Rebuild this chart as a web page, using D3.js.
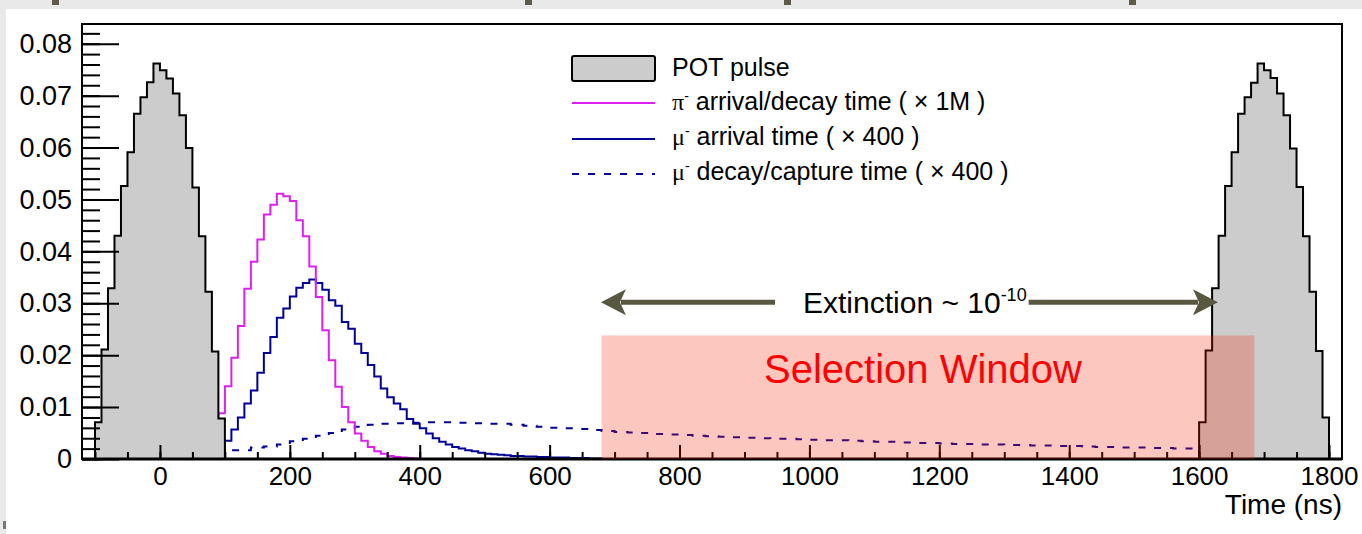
<!DOCTYPE html>
<html>
<head>
<meta charset="utf-8">
<script src="https://cdn.jsdelivr.net/npm/d3@7"></script>
<style>
  body { margin: 0; background: #fff; }
  text { font-family: "Liberation Sans", Arial, Helvetica, sans-serif; fill: #000; }
</style>
</head>
<body>
<svg id="chart" width="1362" height="534"></svg>
<script>
// ---- data -------------------------------------------------------------
const binWidth = 10; // ns

// proton-on-target pulses (normalised), 10 ns bins
const potFirstEdge = -100;
const potPulse = [0.0071, 0.0211, 0.0329, 0.0430, 0.0526, 0.0591, 0.0665, 0.0697, 0.0726, 0.0762,
                  0.0749, 0.0733, 0.0704, 0.0662, 0.0599, 0.0523, 0.0429, 0.0322, 0.0207, 0.0078];
const potNextFirstEdge = 1600;
const potPulseNext = [0.0071, 0.0209, 0.0329, 0.0430, 0.0526, 0.0591, 0.0665, 0.0697, 0.0725, 0.0762,
                      0.0749, 0.0734, 0.0704, 0.0662, 0.0598, 0.0524, 0.0429, 0.0322, 0.0208, 0.0080];

// pi- arrival/decay time (x 1M)
const pionFirstEdge = 90;
const pionTime = [0.0088, 0.0140, 0.0195, 0.0256, 0.0328, 0.0380, 0.0423, 0.0471, 0.0490, 0.0511,
                  0.0506, 0.0497, 0.0460, 0.0429, 0.0371, 0.0312, 0.0248, 0.0190, 0.0139, 0.0100,
                  0.0071, 0.0049, 0.0035, 0.0023, 0.0015, 0.0010, 0.0006, 0.0004, 0.0003, 0.0002,
                  0.0001];

// mu- arrival time (x 400)
const muonFirstEdge = 100;
const muonArrival = [0.0035, 0.0057, 0.0080, 0.0107, 0.0132, 0.0166, 0.0204, 0.0235, 0.0272, 0.0290,
                     0.0313, 0.0330, 0.0339, 0.0346, 0.0339, 0.0326, 0.0306, 0.0295, 0.0264, 0.0251,
                     0.0222, 0.0204, 0.0181, 0.0159, 0.0136, 0.0119, 0.0107, 0.0096, 0.0077, 0.0068,
                     0.0059, 0.0049, 0.0040, 0.0033, 0.0028, 0.0023, 0.0020, 0.0017, 0.0015, 0.0012,
                     0.0010, 0.0009, 0.0008, 0.0007, 0.0006, 0.0006, 0.0005, 0.0005, 0.0004, 0.0004,
                     0.0003, 0.0003, 0.0003, 0.0002, 0.0002, 0.0002, 0.0001, 0.0001];

// mu- decay/capture time (x 400), 20 ns bins
const decayBinWidth = 20;
const decayFirstEdge = 100;
const muonDecay = [0.0017, 0.0017, 0.0022, 0.0024, 0.0028, 0.0034, 0.0039, 0.0045, 0.0050, 0.0057,
                   0.0062, 0.0066, 0.0068, 0.0069, 0.0070, 0.0071, 0.0071, 0.0071, 0.0070, 0.0069,
                   0.0068, 0.0068, 0.0066, 0.0064, 0.0062, 0.0060, 0.0059, 0.0058, 0.0056, 0.0054,
                   0.0052, 0.0051, 0.0050, 0.0048, 0.0047, 0.0046, 0.0045, 0.0044, 0.0043, 0.0042,
                   0.0041, 0.0040, 0.0039, 0.0039, 0.0038, 0.0037, 0.0036, 0.0036, 0.0035, 0.0034,
                   0.0033, 0.0033, 0.0032, 0.0031, 0.0031, 0.0030, 0.0029, 0.0029, 0.0028, 0.0028,
                   0.0027, 0.0027, 0.0026, 0.0026, 0.0025, 0.0025, 0.0024, 0.0023, 0.0023, 0.0022,
                   0.0022, 0.0021, 0.0021, 0.0020, 0.0020];

// axes
const xMajorTicks = [0, 200, 400, 600, 800, 1000, 1200, 1400, 1600, 1800];
const xTickLabels = ["0", "200", "400", "600", "800", "1000", "1200", "1400", "1600", "1800"];
const yMajorTicks = [0, 0.01, 0.02, 0.03, 0.04, 0.05, 0.06, 0.07, 0.08];
const yTickLabels = ["0", "0.01", "0.02", "0.03", "0.04", "0.05", "0.06", "0.07", "0.08"];
const xTitle = "Time (ns)";

// annotations (ns, histogram units)
const selectionWindow = [680, 1685];
const selectionTop = 0.0238;
const extinctionArrow = [679, 1629];
const extinctionLevel = 0.0302;

const legendLabels = [
  { sym: null, text: "POT pulse" },
  { sym: "\u03c0", text: " arrival/decay time ( \u00d7 1M )" },
  { sym: "\u03bc", text: " arrival time ( \u00d7 400 )" },
  { sym: "\u03bc", text: " decay/capture time ( \u00d7 400 )" }
];

// ---- layout -----------------------------------------------------------
const svg = d3.select("#chart");
const frame = { left: 82, right: 1342, top: 24, bottom: 459 };
const x = d3.scaleLinear().domain([-120, 1820]).range([frame.left, frame.right]);
const y = d3.scaleLinear().domain([0, 0.0838]).range([frame.bottom, frame.top]);

const magenta = "#dd1ff0";
const navy = "#000099";
const dash = "7,9";

// page border
svg.append("rect").attr("width", 1362).attr("height", 534).attr("fill", "#fff");
svg.append("rect").attr("x", 0).attr("y", 0).attr("width", 1362).attr("height", 9).attr("fill", "#e9e9e9");
svg.append("rect").attr("x", 0).attr("y", 0).attr("width", 6).attr("height", 534).attr("fill", "#e9e9e9");
[52, 525, 784, 1129].forEach(px => {
  svg.append("rect").attr("x", px).attr("y", 0).attr("width", 7).attr("height", 5).attr("fill", "#5d5b45");
});
svg.append("rect").attr("x", 3).attr("y", 521).attr("width", 3).attr("height", 8).attr("fill", "#777");

// step outline of a histogram
function histPoints(firstEdge, width, values) {
  const pts = [[firstEdge, 0]];
  values.forEach((v, i) => {
    pts.push([firstEdge + i * width, v]);
    pts.push([firstEdge + (i + 1) * width, v]);
  });
  pts.push([firstEdge + values.length * width, 0]);
  return pts;
}
const line = d3.line().x(d => x(d[0])).y(d => y(d[1]));

const plot = svg.append("g");

plot.append("path").attr("d", line(histPoints(muonFirstEdge, binWidth, muonArrival)))
  .attr("fill", "none").attr("stroke", navy).attr("stroke-width", 2);
plot.append("path").attr("d", line(histPoints(decayFirstEdge, decayBinWidth, muonDecay)))
  .attr("fill", "none").attr("stroke", navy).attr("stroke-width", 2)
  .attr("stroke-dasharray", dash);
plot.append("path").attr("d", line(histPoints(pionFirstEdge, binWidth, pionTime)))
  .attr("fill", "none").attr("stroke", magenta).attr("stroke-width", 2);

[[potFirstEdge, potPulse], [potNextFirstEdge, potPulseNext]].forEach(([edge, vals]) => {
  plot.append("path").attr("d", line(histPoints(edge, binWidth, vals)))
    .attr("fill", "#cccccc").attr("stroke", "#000").attr("stroke-width", 2)
    .attr("stroke-linejoin", "miter");
});

// axes
const yMinor = d3.range(0, 0.0835, 0.002);
const xMinor = d3.range(-100, 1821, 50);
const labelFont = 27;

svg.append("g").attr("transform", `translate(${frame.left},0)`)
  .call(d3.axisLeft(y).tickValues(yMinor).tickSizeInner(-18).tickSizeOuter(0).tickFormat(""))
  .call(g => g.select(".domain").remove())
  .selectAll("line").attr("stroke", "#000").attr("stroke-width", 2);
const yAxis = svg.append("g").attr("transform", `translate(${frame.left},0)`)
  .call(d3.axisLeft(y).tickValues(yMajorTicks).tickSizeInner(-37).tickSizeOuter(0).tickPadding(10)
    .tickFormat((d, i) => yTickLabels[i]));
yAxis.select(".domain").remove();
yAxis.selectAll("line").attr("stroke", "#000").attr("stroke-width", 2);
yAxis.selectAll("text").attr("font-size", labelFont).attr("font-family", "Liberation Sans, Arial, sans-serif");

svg.append("g").attr("transform", `translate(0,${frame.bottom})`)
  .call(d3.axisBottom(x).tickValues(xMinor).tickSizeInner(-7).tickSizeOuter(0).tickFormat(""))
  .call(g => g.select(".domain").remove())
  .selectAll("line").attr("stroke", "#000").attr("stroke-width", 2);
const xAxis = svg.append("g").attr("transform", `translate(0,${frame.bottom})`)
  .call(d3.axisBottom(x).tickValues(xMajorTicks).tickSizeInner(-14).tickSizeOuter(0).tickPadding(8)
    .tickFormat((d, i) => xTickLabels[i]));
xAxis.select(".domain").remove();
xAxis.selectAll("line").attr("stroke", "#000").attr("stroke-width", 2);
xAxis.selectAll("text").attr("font-size", 26).attr("font-family", "Liberation Sans, Arial, sans-serif");

// frame
svg.append("rect").attr("x", frame.left).attr("y", frame.top)
  .attr("width", frame.right - frame.left).attr("height", frame.bottom - frame.top)
  .attr("fill", "none").attr("stroke", "#000").attr("stroke-width", 2);
svg.append("line").attr("x1", frame.left).attr("x2", frame.right)
  .attr("y1", frame.bottom).attr("y2", frame.bottom).attr("stroke", "#000").attr("stroke-width", 3);

svg.append("text").attr("x", frame.right).attr("y", 514).attr("text-anchor", "end")
  .attr("font-size", 28).text(xTitle);

// selection window overlay
svg.append("rect")
  .attr("x", x(selectionWindow[0])).attr("y", y(selectionTop))
  .attr("width", x(selectionWindow[1]) - x(selectionWindow[0]))
  .attr("height", y(0) - y(selectionTop))
  .attr("fill", "rgb(245,30,0)").attr("fill-opacity", 0.25);
svg.append("text")
  .attr("x", (x(selectionWindow[0]) + x(selectionWindow[1])) / 2 - 5)
  .attr("y", 383).attr("text-anchor", "middle")
  .attr("font-size", 40).style("fill", "#ff0000").text("Selection Window");

// extinction arrow
const arrowColor = "#585840";
const ay = y(extinctionLevel);
const lx = x(extinctionArrow[0]), rx = x(extinctionArrow[1]);
const ext = svg.append("text").attr("x", 803).attr("y", ay + 11).attr("font-size", 30);
ext.append("tspan").text("Extinction ~ 10");
ext.append("tspan").attr("font-size", 18).attr("dy", -12).text("-10");
const eb = ext.node().getBBox();
svg.append("line").attr("x1", lx + 20).attr("x2", eb.x - 28).attr("y1", ay).attr("y2", ay)
  .attr("stroke", arrowColor).attr("stroke-width", 5);
svg.append("line").attr("x1", eb.x + eb.width + 2).attr("x2", rx - 20).attr("y1", ay).attr("y2", ay)
  .attr("stroke", arrowColor).attr("stroke-width", 5);
svg.append("path")
  .attr("d", `M${lx},${ay} L${lx + 25},${ay - 13} L${lx + 19},${ay} L${lx + 25},${ay + 13} Z`)
  .attr("fill", arrowColor);
svg.append("path")
  .attr("d", `M${rx},${ay} L${rx - 25},${ay - 13} L${rx - 19},${ay} L${rx - 25},${ay + 13} Z`)
  .attr("fill", arrowColor);

// legend
const legend = svg.append("g");
const rowsY = [68, 102, 137, 172];
const lineY = [68, 103, 139, 174];
legendLabels.forEach((d, i) => {
  const cy = rowsY[i];
  if (i === 0) {
    legend.append("rect").attr("x", 572).attr("y", cy - 12).attr("width", 83).attr("height", 25)
      .attr("rx", 2).attr("fill", "#cccccc").attr("stroke", "#000").attr("stroke-width", 2);
  } else {
    legend.append("line").attr("x1", 572).attr("x2", 655).attr("y1", lineY[i]).attr("y2", lineY[i])
      .attr("stroke", i === 1 ? magenta : navy).attr("stroke-width", 2)
      .attr("stroke-dasharray", i === 3 ? dash : null);
  }
  const t = legend.append("text").attr("x", 672).attr("y", cy + 8).attr("font-size", 25);
  if (d.sym) {
    t.append("tspan").attr("font-family", "Liberation Serif, serif").attr("font-size", 24).text(d.sym);
    t.append("tspan").attr("font-size", 14).attr("dy", -9).text("-");
    t.append("tspan").attr("dy", 9).text(d.text);
  } else {
    t.text(d.text);
  }
});
</script>
</body>
</html>
